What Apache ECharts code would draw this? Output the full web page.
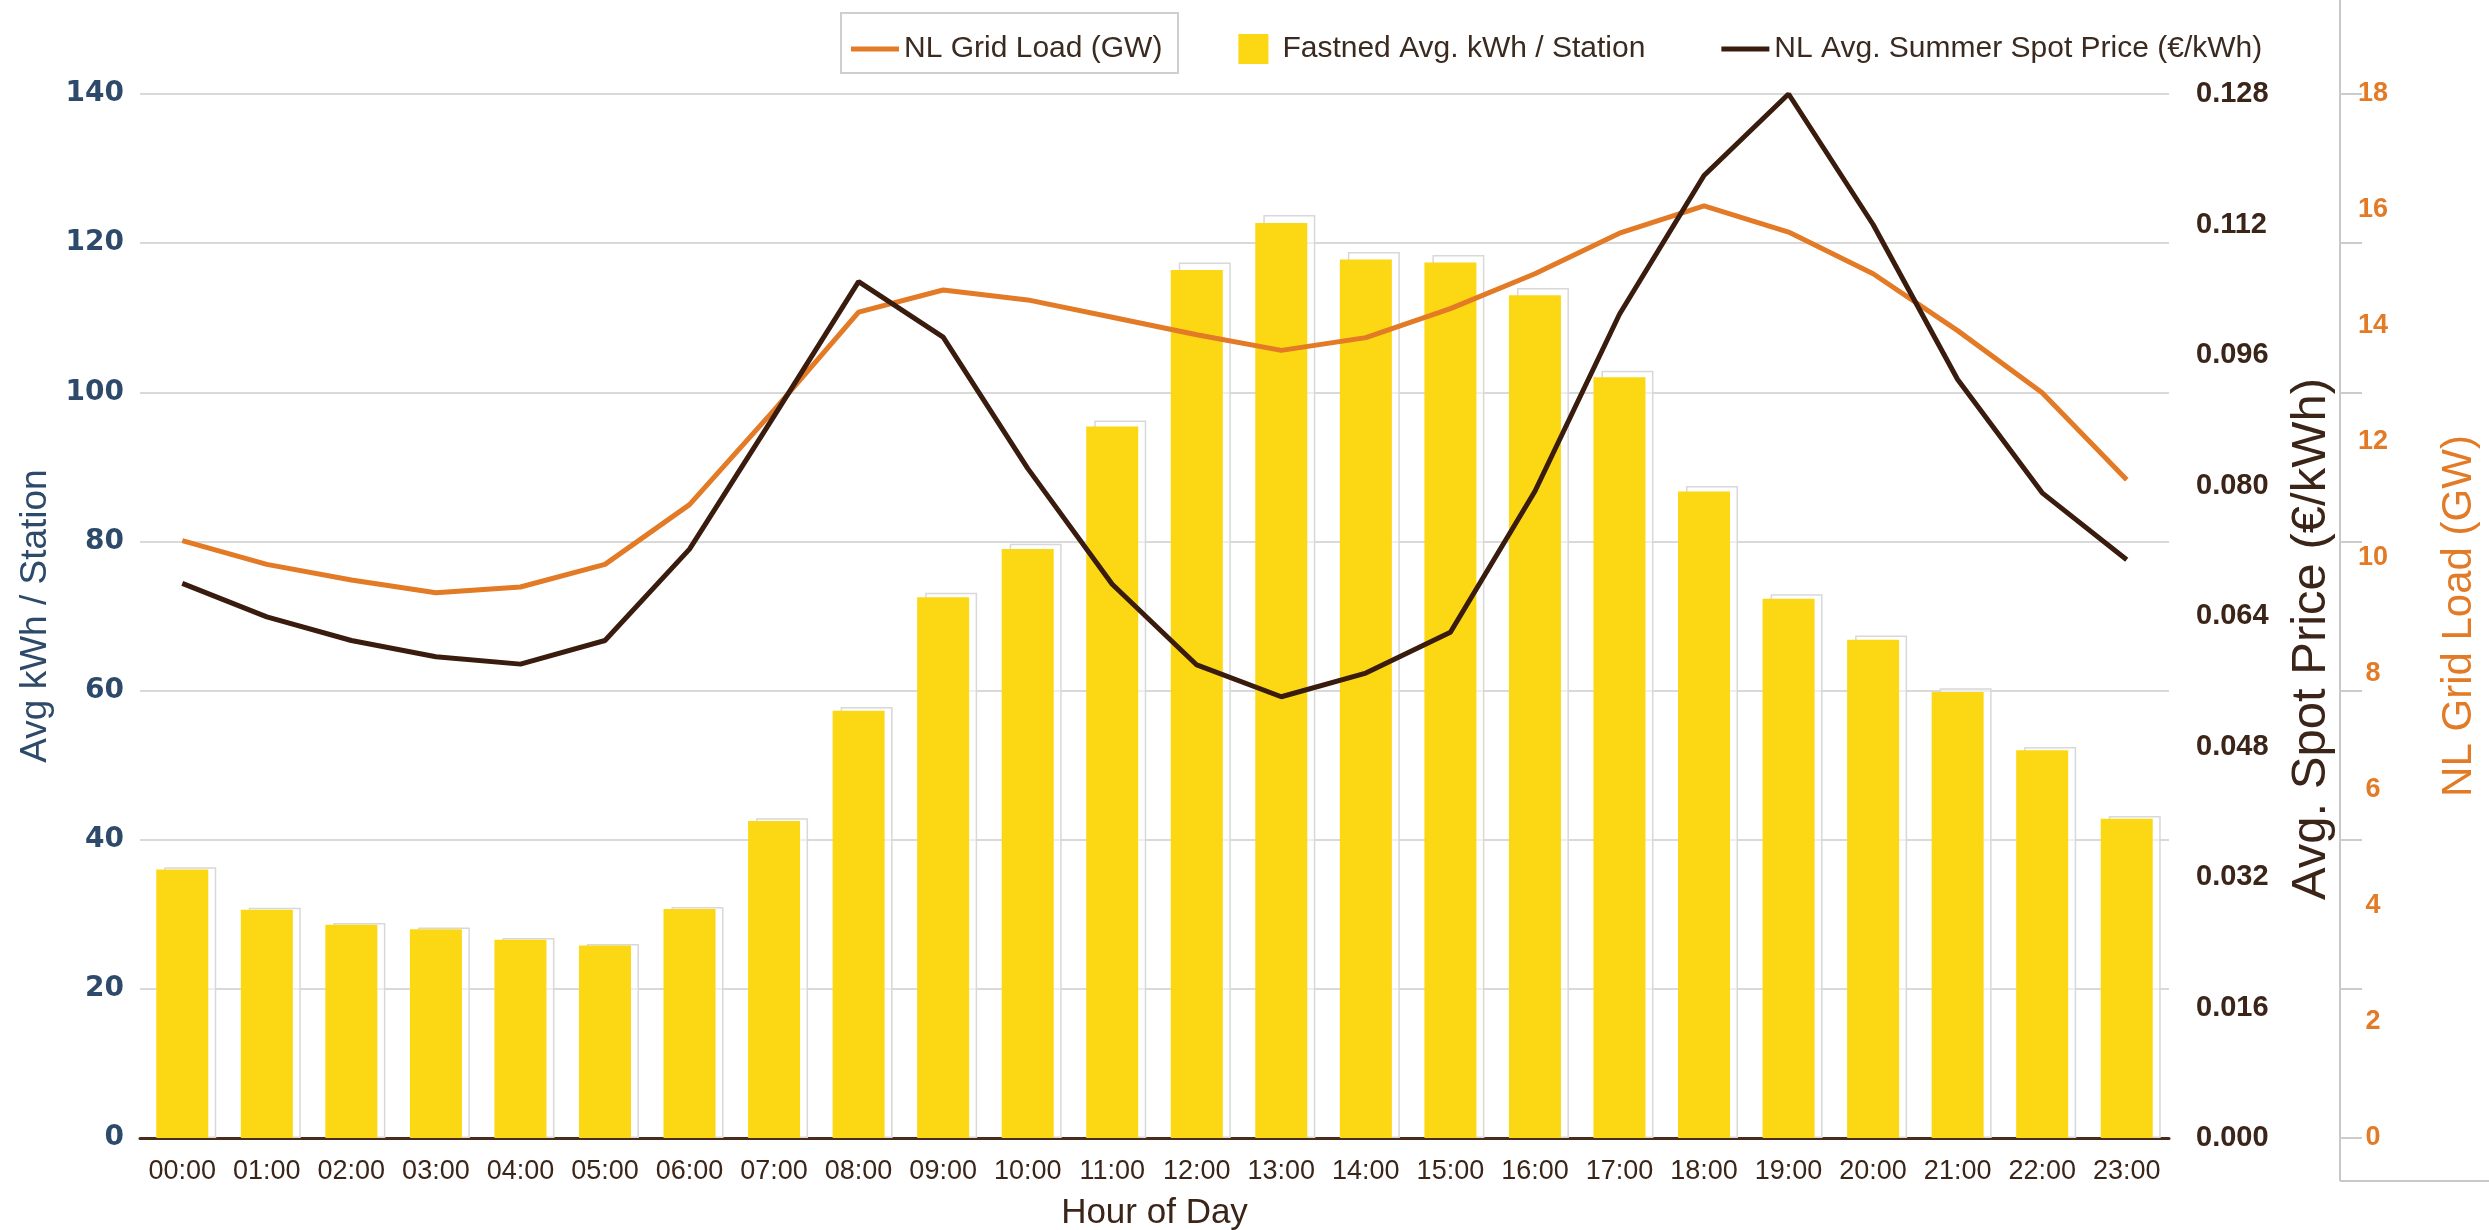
<!DOCTYPE html>
<html>
<head>
<meta charset="utf-8">
<script src="https://cdn.jsdelivr.net/npm/echarts@6/dist/echarts.min.js"></script>
<style>
  html, body { margin: 0; padding: 0; background: #fff; }
  #chart { width: 2489px; height: 1230px; }
</style>
</head>
<body>
<div id="chart"></div>
<script>
// hour of day categories
const hours = ['00:00', '01:00', '02:00', '03:00', '04:00', '05:00', '06:00', '07:00',
  '08:00', '09:00', '10:00', '11:00', '12:00', '13:00', '14:00', '15:00',
  '16:00', '17:00', '18:00', '19:00', '20:00', '21:00', '22:00', '23:00']

// Fastned avg kWh per station (left axis)
const kwhPerStation = [36.0, 30.6, 28.6, 28.0, 26.6, 25.8, 30.7, 42.5,
  57.3, 72.5, 79.0, 95.4, 116.4, 122.7, 117.8, 117.4,
  113.0, 102.0, 86.7, 72.3, 66.8, 59.8, 52.0, 42.8]

// NL grid load in GW (far right axis)
const gridLoad = [10.3, 9.89, 9.62, 9.4, 9.5, 9.89, 10.92, 12.55,
  14.24, 14.62, 14.45, 14.15, 13.85, 13.58, 13.8, 14.3,
  14.9, 15.6, 16.07, 15.62, 14.9, 13.92, 12.85, 11.35]

// NL avg summer spot price in EUR/kWh (right axis)
const spotPrice = [0.068, 0.0639, 0.061, 0.059, 0.0581, 0.061, 0.0722, 0.0885,
  0.105, 0.0982, 0.0821, 0.0679, 0.058, 0.0541, 0.057, 0.062,
  0.0793, 0.101, 0.118, 0.128, 0.112, 0.093, 0.0791, 0.0709]

const ORANGE = '#E27A26'
const BROWN = '#3A1C0E'
const YELLOW = '#FCD714'
const FONT = '"Liberation Sans", Arial, sans-serif'

const chart = echarts.init(document.getElementById('chart'))
chart.setOption({
  animation: false,
  textStyle: {fontFamily: FONT},
  legend: {
    left: 846,
    top: 29,
    itemWidth: 48,
    itemHeight: 30,
    itemGap: 76,
    textStyle: {fontSize: 30, color: '#3a2a20', fontFamily: FONT},
    data: [
      {name: 'NL Grid Load (GW)', icon: 'path://M0,0H48V5H0Z'},
      {name: 'Fastned Avg. kWh / Station', icon: 'path://M0,0H10V10H0Z'},
      {name: 'NL Avg. Summer Spot Price (€/kWh)', icon: 'path://M0,0H48V5H0Z'}
    ]
  },
  graphic: [
    // box round the first legend item and the frame of the right panel
    {type: 'rect', shape: {x: 841, y: 13, width: 337, height: 60},
      style: {fill: 'none', stroke: '#cfcfcf', lineWidth: 2}},
    {type: 'line', shape: {x1: 2340, y1: 0, x2: 2340, y2: 1181},
      style: {stroke: '#c8c8c8', lineWidth: 2}},
    {type: 'line', shape: {x1: 2340, y1: 1181, x2: 2489, y2: 1181},
      style: {stroke: '#c8c8c8', lineWidth: 2}}
  ],
  grid: [
    {left: 140, right: 320, top: 94, bottom: 92, outerBoundsMode: 'none', containLabel: false},
    // shifted grid for the faint outline behind each bar
    {left: 148, right: 312, top: 85, bottom: 92, outerBoundsMode: 'none', containLabel: false}
  ],
  xAxis: [
    {
      type: 'category',
      data: hours,
      gridIndex: 0,
      name: 'Hour of Day',
      nameLocation: 'middle',
      nameGap: 58,
      nameTextStyle: {fontSize: 35, color: '#3b2418'},
      axisLine: {lineStyle: {color: '#4a2c1c', width: 3}},
      axisTick: {show: false},
      axisLabel: {fontSize: 27, color: '#3b2418', margin: 20, interval: 0}
    },
    {type: 'category', data: hours, gridIndex: 1, show: false}
  ],
  yAxis: [
    {
      type: 'value',
      min: 0, max: 140, interval: 20,
      name: 'Avg kWh / Station',
      nameLocation: 'middle',
      nameRotate: 90,
      nameGap: 82,
      nameTextStyle: {fontSize: 37, color: '#2d4a6b'},
      axisLabel: {fontSize: 28, fontWeight: 'bold', color: '#2d4a6b', margin: 16, fontFamily: '"DejaVu Sans", sans-serif'},
      axisLine: {show: false},
      axisTick: {show: false},
      splitLine: {lineStyle: {color: '#d9d9d9', width: 2}}
    },
    {
      type: 'value',
      position: 'right',
      min: 0, max: 0.128, interval: 0.016,
      name: 'Avg. Spot Price (€/kWh)',
      nameLocation: 'middle',
      nameRotate: 90,
      nameGap: 118,
      nameTextStyle: {fontSize: 49, color: '#3b2418', padding: [0, 46, 0, 0]},
      axisLabel: {
        fontSize: 29, fontWeight: 'bold', color: '#3b2418', margin: 27,
        formatter: v => v.toFixed(3)
      },
      axisLine: {show: false},
      axisTick: {show: false},
      splitLine: {show: false}
    },
    {
      type: 'value',
      position: 'right',
      offset: 171,
      min: 0, max: 18, interval: 2,
      name: 'NL Grid Load (GW)',
      nameLocation: 'middle',
      nameRotate: 90,
      nameGap: 98,
      nameTextStyle: {fontSize: 42, color: ORANGE},
      axisLabel: {fontSize: 27, fontWeight: 'bold', color: ORANGE, margin: 33, align: 'center'},
      axisLine: {show: false},
      axisTick: {show: false},
      splitLine: {show: false}
    },
    {
      // only the short ticks on the grid load panel
      type: 'value',
      position: 'right',
      offset: 171,
      min: 0, max: 140, interval: 20,
      axisLabel: {show: false},
      axisLine: {show: false},
      axisTick: {show: true, length: 22, lineStyle: {color: '#cccccc', width: 2}},
      splitLine: {show: false}
    },
    {type: 'value', gridIndex: 1, min: 0, max: 140, show: false}
  ],
  series: [
    {
      name: 'ghost',
      type: 'bar',
      xAxisIndex: 1,
      yAxisIndex: 4,
      barWidth: 52,
      z: 1,
      silent: true,
      data: kwhPerStation,
      itemStyle: {color: 'rgba(255,255,255,0.55)', borderColor: '#d8d8d8', borderWidth: 1.5}
    },
    {
      name: 'Fastned Avg. kWh / Station',
      type: 'bar',
      barWidth: 52,
      z: 2,
      data: kwhPerStation,
      itemStyle: {color: YELLOW}
    },
    {
      name: 'NL Grid Load (GW)',
      type: 'line',
      yAxisIndex: 2,
      z: 3,
      showSymbol: false,
      data: gridLoad,
      itemStyle: {color: ORANGE},
      lineStyle: {color: ORANGE, width: 5}
    },
    {
      name: 'NL Avg. Summer Spot Price (€/kWh)',
      type: 'line',
      yAxisIndex: 1,
      z: 4,
      showSymbol: false,
      data: spotPrice,
      itemStyle: {color: BROWN},
      lineStyle: {color: BROWN, width: 5}
    }
  ]
})
</script>
</body>
</html>
